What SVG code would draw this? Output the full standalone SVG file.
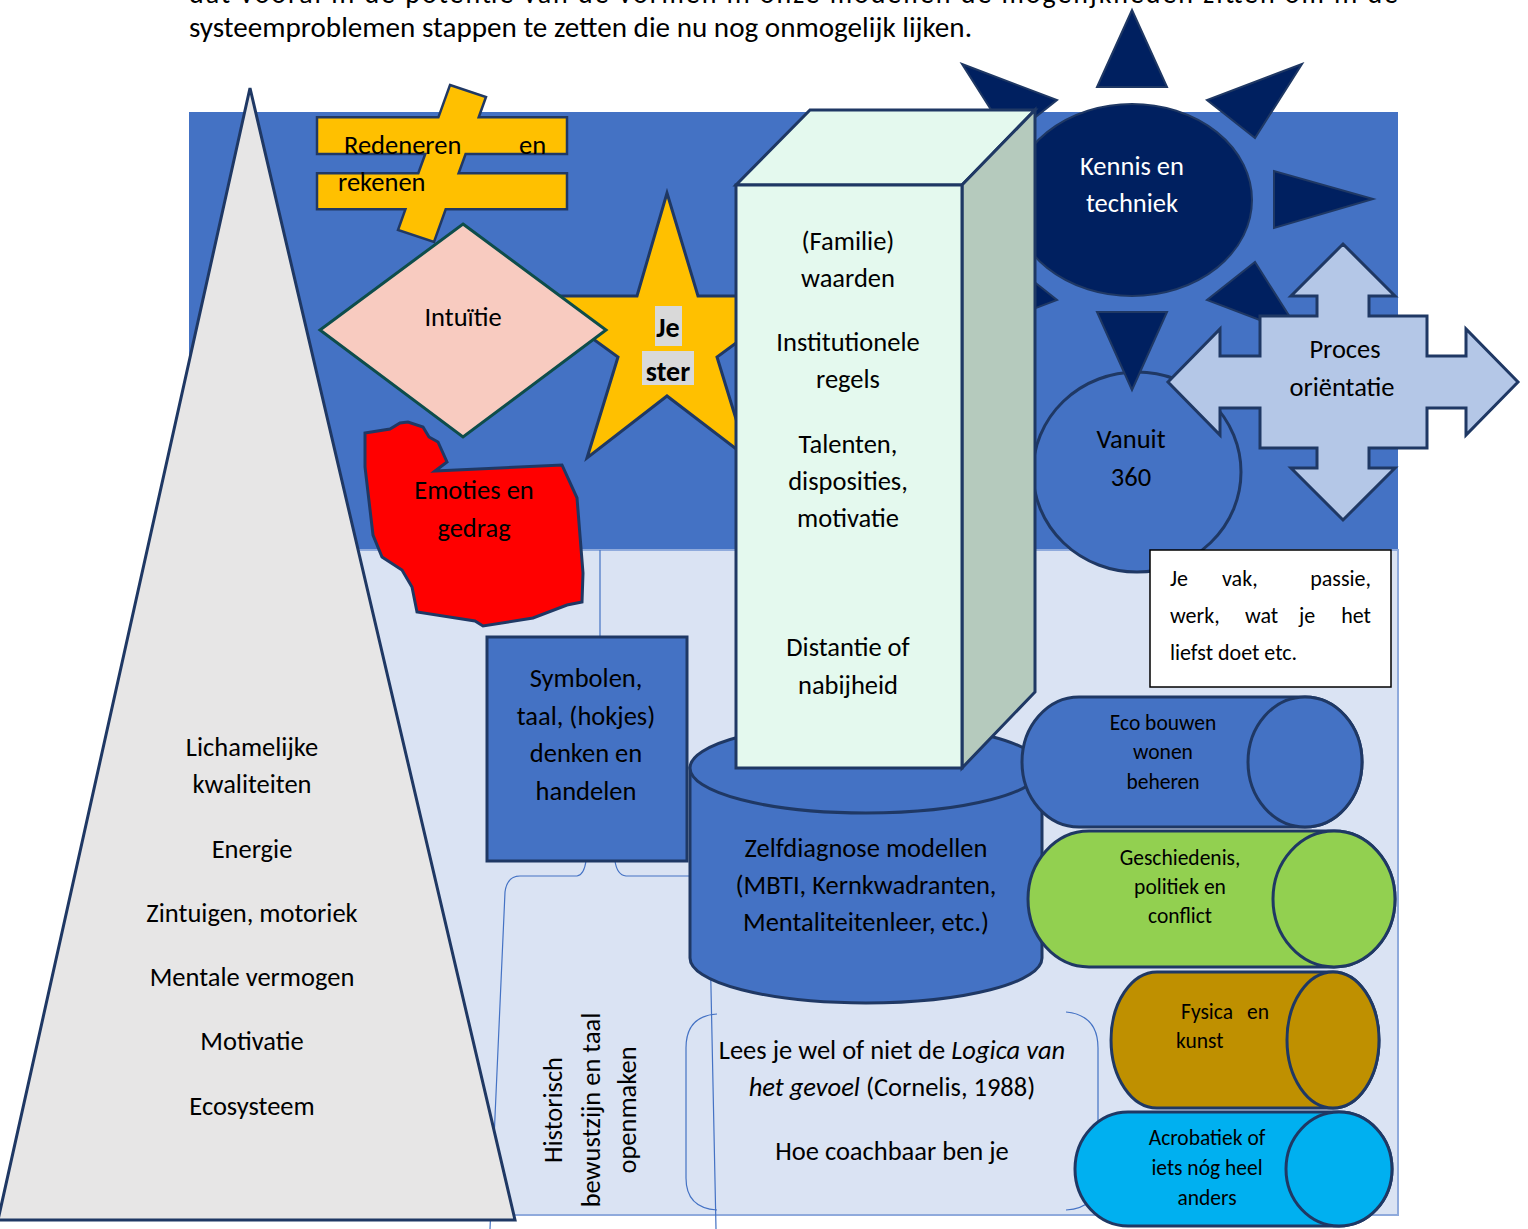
<svg xmlns="http://www.w3.org/2000/svg" width="1528" height="1229" viewBox="0 0 1528 1229">
<style>
text{font-family:Carlito,Calibri,"Open Sans","Liberation Sans",sans-serif;fill:#000;}
.t{font-size:26.5px;text-anchor:middle;}
.s{font-size:21.5px;text-anchor:middle;}
.sh{stroke:#1F3864;stroke-width:3;stroke-linejoin:miter;}
.con{fill:none;stroke:#4472C4;stroke-width:1.2;}
</style>
<rect width="1528" height="1229" fill="#fff"/>
<g id="intro">
<text x="189" y="3" font-size="28" textLength="1209" lengthAdjust="spacing">dat vooral in de potentie van de vormen in onze modellen de mogelijkheden zitten om in de</text>
<text x="189" y="37" font-size="28" textLength="783" lengthAdjust="spacingAndGlyphs">systeemproblemen stappen te zetten die nu nog onmogelijk lijken.</text>
</g>
<g id="background">
<rect x="189" y="112" width="1209" height="438" fill="#4472C4"/>
<rect x="189" y="550" width="1209" height="665" fill="#DAE3F3" stroke="#8FAADC" stroke-width="2"/>
</g>
<g id="connectors">
<line x1="600" y1="550" x2="600" y2="637" class="con"/>
<path class="con" d="M490,1229 L505,892 Q507,876 520,876 L577,876 Q584,875 586,861"/>
<path class="con" d="M615,861 Q617,875 626,876 L698,876 Q708,878 709,892 L716,1229"/>
<path class="con" d="M717,1014 Q686,1016 686,1048 L686,1178 Q686,1208 717,1210"/>
<path class="con" d="M1066,1012 Q1098,1015 1098,1048 L1098,1178 Q1098,1208 1066,1210"/>
</g>
<g id="vanuit360">
<ellipse cx="1137" cy="472" rx="104" ry="100" fill="#4472C4" class="sh" stroke-width="2.5"/>
<text class="t" x="1131" y="448">Vanuit</text>
<text class="t" x="1131" y="486">360</text>
</g>
<g id="kennis" fill="#002060" stroke="#1F3864" stroke-width="2">
<polygon points="1132,10 1097,87 1167,87"/>
<polygon points="1302,64 1207,100 1255,138"/>
<polygon points="1373,199 1274,171 1274,228"/>
<polygon points="1302,336 1207,300 1255,262"/>
<polygon points="1132,390 1097,312 1167,312"/>
<polygon points="962,336 1057,300 1009,262"/>
<polygon points="962,64 1057,100 1009,138"/>
<ellipse cx="1132" cy="200" rx="120" ry="96"/>
<text class="t" x="1132" y="175" style="fill:#fff" stroke="none">Kennis en</text>
<text class="t" x="1132" y="212" style="fill:#fff" stroke="none">techniek</text>
</g>
<g id="proces">
<polygon fill="#B4C7E7" class="sh" stroke-width="2.5" points="1343,244 1395,296 1369,296 1369,316 1427,316 1427,356 1466,356 1466,329 1518,382 1466,435 1466,408 1427,408 1427,448 1369,448 1369,468 1395,468 1343,520 1291,468 1317,468 1317,448 1260,448 1260,408 1220,408 1220,435 1168,382 1220,329 1220,356 1260,356 1260,316 1317,316 1317,296 1291,296"/>
<text class="t" x="1345" y="358">Proces</text>
<text class="t" x="1342" y="396">oriëntatie</text>
</g>
<g id="vak">
<rect x="1150" y="550" width="241" height="137" fill="#fff" stroke="#000" stroke-width="1.5"/>
<text y="586" font-size="22"><tspan x="1170">Je</tspan><tspan x="1222">vak,</tspan><tspan x="1371" text-anchor="end">passie,</tspan></text>
<text y="623" font-size="22"><tspan x="1170">werk,</tspan><tspan x="1245">wat</tspan><tspan x="1299">je</tspan><tspan x="1371" text-anchor="end">het</tspan></text>
<text x="1170" y="660" font-size="22">liefst doet etc.</text>
</g>
<g id="zelfdiagnose">
<path fill="#4472C4" class="sh" d="M690,768 L690,958 A176,45 0 0 0 1042,958 L1042,768 Z"/>
<ellipse cx="866" cy="768" rx="176" ry="45" fill="#4472C4" class="sh"/>
<text class="t" x="866" y="857">Zelfdiagnose modellen</text>
<text class="t" x="866" y="894">(MBTI, Kernkwadranten,</text>
<text class="t" x="866" y="931">Mentaliteitenleer, etc.)</text>
</g>
<g id="ster">
<polygon fill="#FFC000" class="sh" stroke-width="2.5" points="667,193 698,296 800,296 717,357 748,458 667,396 587,458 618,357 534,296 637,296"/>
<rect x="655" y="306" width="27" height="40" fill="#D9D9D9"/>
<rect x="642" y="351" width="52" height="34" fill="#D9D9D9"/>
<text x="668" y="337" font-size="28" font-weight="bold" text-anchor="middle">Je</text>
<text x="668" y="381" font-size="28" font-weight="bold" text-anchor="middle">ster</text>
</g>
<g id="waarden">
<polygon fill="#E4F9EE" class="sh" points="736,185 962,185 1035,110 810,110"/>
<polygon fill="#B5CABD" class="sh" points="962,185 1035,110 1035,692 962,768"/>
<rect x="736" y="185" width="226" height="583" fill="#E4F9EE" class="sh"/>
<text class="t" x="848" y="250">(Familie)</text>
<text class="t" x="848" y="287">waarden</text>
<text class="t" x="848" y="351">Institutionele</text>
<text class="t" x="848" y="388">regels</text>
<text class="t" x="848" y="453">Talenten,</text>
<text class="t" x="848" y="490">disposities,</text>
<text class="t" x="848" y="527">motivatie</text>
<text class="t" x="848" y="656">Distantie of</text>
<text class="t" x="848" y="694">nabijheid</text>
</g>
<g id="lichaam">
<polygon fill="#E7E6E6" class="sh" points="250,88 515,1220 -2,1220"/>
<text class="t" x="252" y="756">Lichamelijke</text>
<text class="t" x="252" y="793">kwaliteiten</text>
<text class="t" x="252" y="858">Energie</text>
<text class="t" x="252" y="922">Zintuigen, motoriek</text>
<text class="t" x="252" y="986">Mentale vermogen</text>
<text class="t" x="252" y="1050">Motivatie</text>
<text class="t" x="252" y="1115">Ecosysteem</text>
</g>
<g id="redeneren">
<polygon fill="#FFC000" stroke="#203864" stroke-width="2.5" points="450,85 486,97 478.7,117.3 567,117.3 567,154 465.6,154 458.6,173.3 567,173.3 567,209.3 445.7,209.3 434,242 398,230 405.4,209.3 317,209.3 317,173.3 418.3,173.3 425.3,154 317,154 317,117.3 438.4,117.3"/>
<text y="154" font-size="26.5"><tspan x="344">Redeneren</tspan><tspan x="519">en</tspan></text>
<text x="338" y="191" font-size="26.5">rekenen</text>
</g>
<g id="intuitie">
<polygon fill="#F8CBC0" stroke="#0E4D4A" stroke-width="3" points="463,224 606,330 463,437 320,330"/>
<text class="t" x="463" y="326">Intuïtie</text>
</g>
<g id="emoties">
<polygon fill="#FF0000" class="sh" stroke-linejoin="round" points="365,433 390,429 400,423 408,422 423,427 429,437 438,442 447,462 435,471 562,465 577,498 583,573 582,602 567,605 533,618 483,626 475,621 417,612 412,587 402,570 382,557 373,535 365,467"/>
<text class="t" x="474" y="499">Emoties en</text>
<text class="t" x="474" y="537">gedrag</text>
</g>
<g id="symbolen">
<rect x="487" y="637" width="200" height="224" fill="#4472C4" class="sh"/>
<text class="t" x="586" y="687">Symbolen,</text>
<text class="t" x="586" y="725">taal, (hokjes)</text>
<text class="t" x="586" y="762">denken en</text>
<text class="t" x="586" y="800">handelen</text>
</g>
<g id="historisch">
<text class="t" transform="translate(562,1110) rotate(-90)">Historisch</text>
<text class="t" transform="translate(600,1110) rotate(-90)">bewustzijn en taal</text>
<text class="t" transform="translate(636,1110) rotate(-90)">openmaken</text>
</g>
<g id="logica">
<text class="t" x="892" y="1059">Lees je wel of niet de <tspan font-style="italic">Logica van</tspan></text>
<text class="t" x="892" y="1096"><tspan font-style="italic">het gevoel</tspan> (Cornelis, 1988)</text>
<text class="t" x="892" y="1160">Hoe coachbaar ben je</text>
</g>
<g id="eco">
<path fill="#4472C4" class="sh" d="M1079,697 L1305,697 A57,65 0 0 1 1305,827 L1079,827 A57,65 0 0 1 1079,697 Z"/>
<ellipse cx="1305" cy="762" rx="57" ry="65" fill="#4472C4" class="sh"/>
<text class="s" x="1163" y="730">Eco bouwen</text>
<text class="s" x="1163" y="759">wonen</text>
<text class="s" x="1163" y="789">beheren</text>
</g>
<g id="geschiedenis">
<path fill="#92D050" class="sh" d="M1089,831 L1334,831 A61,68 0 0 1 1334,967 L1089,967 A61,68 0 0 1 1089,831 Z"/>
<ellipse cx="1334" cy="899" rx="61" ry="68" fill="#92D050" class="sh"/>
<text class="s" x="1180" y="865">Geschiedenis,</text>
<text class="s" x="1180" y="894">politiek en</text>
<text class="s" x="1180" y="923">conflict</text>
</g>
<g id="fysica">
<path fill="#BF9000" class="sh" d="M1157,972 L1333,972 A46,68 0 0 1 1333,1108 L1157,1108 A46,68 0 0 1 1157,972 Z"/>
<ellipse cx="1333" cy="1040" rx="46" ry="68" fill="#BF9000" class="sh"/>
<text y="1019" font-size="21.5"><tspan x="1181">Fysica</tspan><tspan x="1247">en</tspan></text>
<text x="1176" y="1048" font-size="21.5">kunst</text>
</g>
<g id="acrobatiek">
<path fill="#00B0F0" class="sh" d="M1128,1112 L1339,1112 A53,57 0 0 1 1339,1226 L1128,1226 A53,57 0 0 1 1128,1112 Z"/>
<ellipse cx="1339" cy="1169" rx="53" ry="57" fill="#00B0F0" class="sh"/>
<text class="s" x="1207" y="1145">Acrobatiek of</text>
<text class="s" x="1207" y="1175">iets nóg heel</text>
<text class="s" x="1207" y="1205">anders</text>
</g>
</svg>
